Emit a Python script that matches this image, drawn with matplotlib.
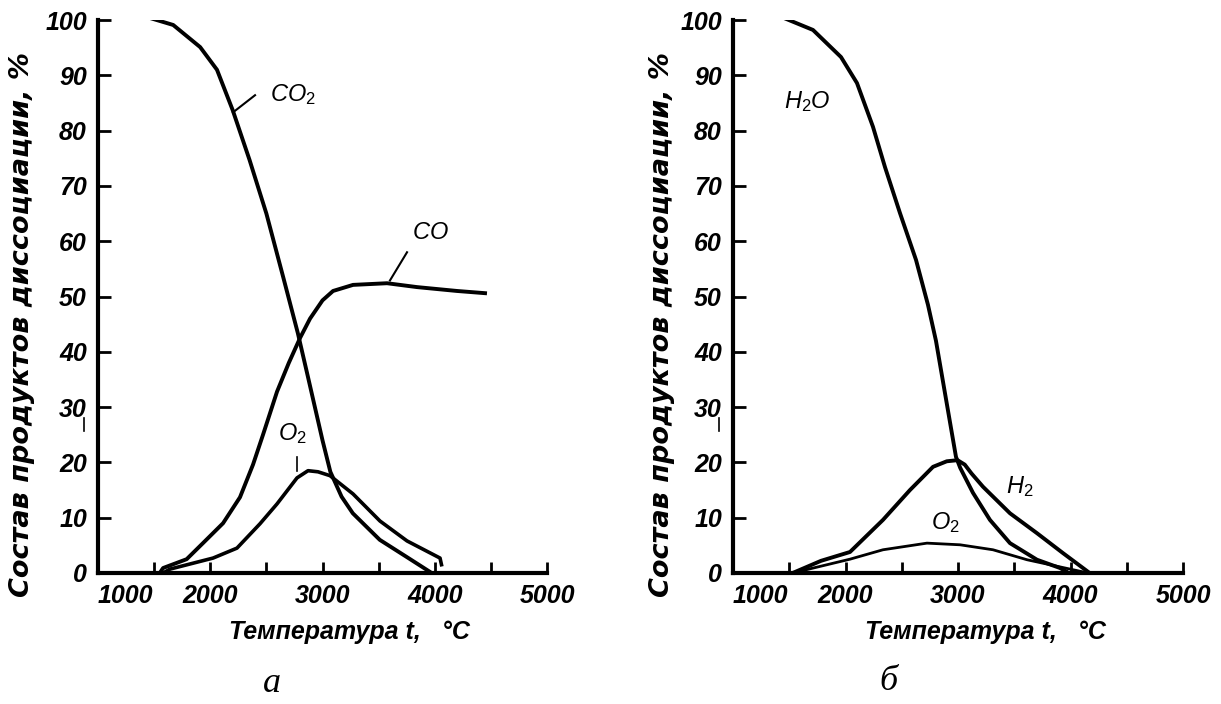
import matplotlib
matplotlib.use("Agg")
import matplotlib.pyplot as plt
from matplotlib import font_manager

# --- panel a: CO2 dissociation ---
co2_t = [1440, 1670, 1910, 2060, 2200, 2350, 2500, 2650, 2780, 2870, 3000, 3070, 3170, 3270, 3510, 3750, 3950]
co2_v = [100.5, 99.1, 95.1, 91.0, 83.7, 74.7, 65.0, 53.5, 43.4, 35.5, 24.0, 18.3, 13.8, 10.8, 6.0, 2.9, 0.3]

co_t = [1550, 1580, 1790, 1935, 2114, 2265, 2381, 2470, 2595, 2700, 2800, 2889, 3000, 3094, 3272, 3575, 3842, 4198, 4448]
co_v = [0.0, 0.9, 2.5, 5.4, 9.0, 13.7, 19.6, 25.0, 32.8, 38.0, 42.5, 46.0, 49.3, 51.0, 52.1, 52.4, 51.7, 51.0, 50.6]

o2a_t = [1580, 1641, 2025, 2238, 2443, 2595, 2773, 2871, 2960, 3067, 3272, 3512, 3753, 4047, 4060]
o2a_v = [0.0, 0.7, 2.7, 4.5, 8.9, 12.5, 17.2, 18.5, 18.3, 17.6, 14.3, 9.4, 5.8, 2.7, 1.5]

# --- panel b: H2O dissociation ---
h2o_t = [1436, 1711, 1960, 2102, 2244, 2351, 2484, 2627, 2733, 2804, 2876, 2982, 3020, 3133, 3284, 3462, 3702, 3907, 3960]
h2o_v = [100.5, 98.2, 93.3, 88.6, 80.7, 73.4, 65.1, 56.6, 48.5, 42.0, 33.5, 21.0, 19.0, 14.5, 9.6, 5.4, 2.4, 0.9, 0.3]

h2_t = [1530, 1782, 2040, 2333, 2573, 2778, 2900, 2996, 3060, 3120, 3222, 3462, 3702, 3933, 4111, 4170]
h2_v = [0.0, 2.2, 3.8, 9.6, 15.0, 19.2, 20.2, 20.4, 19.6, 18.0, 15.6, 10.8, 7.2, 3.6, 0.9, 0.0]

o2b_t = [1530, 2040, 2333, 2724, 3018, 3311, 3613, 3907, 4111]
o2b_v = [0.0, 2.5, 4.2, 5.4, 5.1, 4.2, 2.4, 1.1, 0.2]

x_ticks = [1000, 1500, 2000, 2500, 3000, 3500, 4000, 4500, 5000]
x_labels = ["1000", "", "2000", "", "3000", "", "4000", "", "5000"]
y_ticks = list(range(0, 101, 10))

xlabel = "Температура t,   °C"
ylabel = "Состав продуктов диссоциации, %"

installed = {f.name for f in font_manager.fontManager.ttflist}
tick_font = "Liberation Sans Narrow" if "Liberation Sans Narrow" in installed else "Liberation Sans"

plt.rcParams["mathtext.fontset"] = "custom"
plt.rcParams["mathtext.it"] = "Liberation Sans:italic"
plt.rcParams["mathtext.rm"] = "Liberation Sans"

fig = plt.figure(figsize=(12.21, 7.04), dpi=100)
ax_a = fig.add_axes([98 / 1221, 131 / 704, 449 / 1221, 553 / 704])
ax_b = fig.add_axes([733 / 1221, 131 / 704, 450 / 1221, 553 / 704])


def style_axes(ax, ylab_x):
    ax.set_xlim(1000, 5000)
    ax.set_ylim(0, 100)
    for s in ["top", "right"]:
        ax.spines[s].set_visible(False)
    for s in ["left", "bottom"]:
        ax.spines[s].set_linewidth(3)
    ax.set_xticks(x_ticks)
    ax.set_xticklabels(x_labels)
    ax.set_yticks(y_ticks)
    ax.tick_params(axis="x", direction="in", length=8, width=2, pad=8)
    ax.tick_params(axis="y", direction="in", length=9.5, width=2, pad=8)
    for lab in ax.get_xticklabels() + ax.get_yticklabels():
        lab.set_fontfamily(tick_font)
        lab.set_fontweight("bold")
        lab.set_fontstyle("italic")
        lab.set_fontsize(18)
    ax.get_xticklabels()[0].set_horizontalalignment("left")
    ax.set_xlabel(xlabel, fontfamily=tick_font, fontweight="bold",
                  fontstyle="italic", fontsize=18)
    ax.xaxis.set_label_coords(0.56, -0.085)
    ax.set_ylabel(ylabel, fontfamily="DejaVu Sans", fontweight="bold",
                  fontstyle="oblique", fontsize=19.5)
    ax.yaxis.set_label_coords(ylab_x, 0.45)
    ax.patch.set_alpha(0)
    # small stray tick left of the axis, below "30"
    ax.plot([875, 875], [25.7, 28.1], color="black", lw=1.2, clip_on=False)


style_axes(ax_a, -0.14)
style_axes(ax_b, -0.128)

lbl = dict(fontsize=17, ha="center", va="center", color="black")

# panel a curves
ax_a.plot(co2_t, co2_v, color="black", lw=2.8, solid_joinstyle="round")
ax_a.plot(co_t, co_v, color="black", lw=2.8, solid_joinstyle="round")
ax_a.plot(o2a_t, o2a_v, color="black", lw=2.6, solid_joinstyle="round")
ax_a.text(2737, 86.5, r"$\mathit{CO_2}$", **lbl)
ax_a.plot([2203, 2399], [83.3, 86.4], color="black", lw=1.5)
ax_a.text(3958, 61.6, r"$\mathit{CO}$", **lbl)
ax_a.plot([3601, 3753], [52.9, 58.0], color="black", lw=1.5)
ax_a.text(2728, 25.2, r"$\mathit{O_2}$", **lbl)
ax_a.plot([2773, 2773], [18.5, 21.0], color="black", lw=1.2)

# panel b curves
ax_b.plot(h2o_t, h2o_v, color="black", lw=2.8, solid_joinstyle="round")
ax_b.plot(h2_t, h2_v, color="black", lw=2.8, solid_joinstyle="round")
ax_b.plot(o2b_t, o2b_v, color="black", lw=2.0, solid_joinstyle="round")
ax_b.text(1658, 85.2, r"$\mathit{H_2O}$", **lbl)
ax_b.text(3551, 15.6, r"$\mathit{H_2}$", **lbl)
ax_b.text(2884, 9.2, r"$\mathit{O_2}$", **lbl)

fig.text(272 / 1221, 1 - 684 / 704, "а", fontfamily="Liberation Serif",
         fontstyle="italic", fontsize=26, ha="center", va="center")
fig.text(888 / 1221, 1 - 682 / 704, "б", fontfamily="Liberation Serif",
         fontstyle="italic", fontsize=26, ha="center", va="center")

fig.savefig("out.png", dpi=100)
